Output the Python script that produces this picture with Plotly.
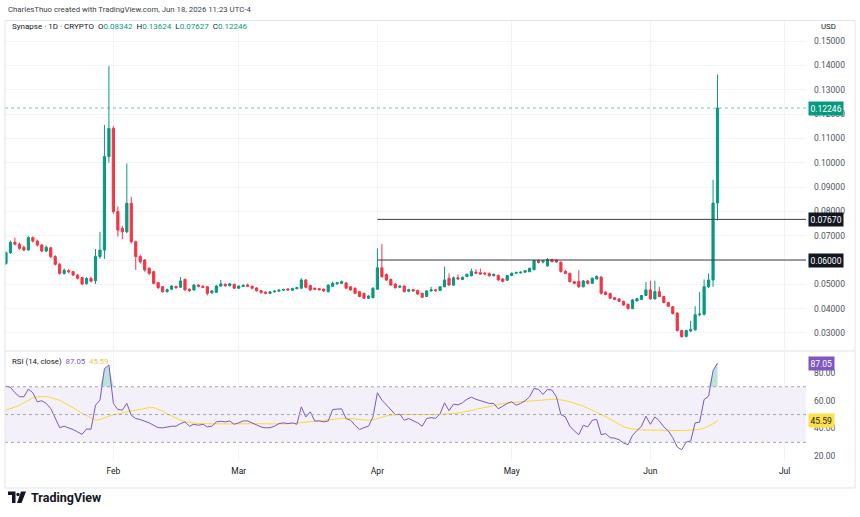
import pandas as pd
import plotly.graph_objects as go

# ---------------- data ----------------
start_date = "2026-01-08"

opens = [0.0586,0.0630,0.0673,0.0665,0.0652,0.0641,0.0692,0.0678,0.0662,0.0637,
         0.0650,0.0614,0.0582,0.0545,0.0556,0.0552,0.0538,0.0528,0.0503,0.0524,
         0.0515,0.0614,0.0641,0.1025,0.1141,0.0799,0.0730,0.0716,0.0833,0.0675,
         0.0614,0.0600,0.0566,0.0552,0.0507,0.0490,0.0470,0.0480,0.0491,0.0488,
         0.0520,0.0480,0.0477,0.0497,0.0492,0.0490,0.0465,0.0467,0.0493,0.0500,
         0.0494,0.0500,0.0484,0.0491,0.0497,0.0492,0.0485,0.0474,0.0468,0.0463,
         0.0469,0.0472,0.0476,0.0481,0.0476,0.0482,0.0484,0.0518,0.0495,0.0484,
         0.0482,0.0480,0.0470,0.0492,0.0502,0.0504,0.0506,0.0490,0.0484,0.0470,
         0.0463,0.0443,0.0445,0.0480,0.0568,0.0540,0.0520,0.0501,0.0488,0.0493,
         0.0472,0.0478,0.0475,0.0463,0.0450,0.0473,0.0478,0.0475,0.0490,0.0525,
         0.0497,0.0527,0.0520,0.0532,0.0535,0.0550,0.0548,0.0546,0.0545,0.0535,
         0.0537,0.0522,0.0517,0.0536,0.0546,0.0547,0.0550,0.0552,0.0560,0.0598,
         0.0592,0.0576,0.0602,0.0600,0.0591,0.0553,0.0545,0.0511,0.0512,0.0490,
         0.0514,0.0504,0.0522,0.0530,0.0468,0.0462,0.0445,0.0440,0.0430,0.0418,
         0.0400,0.0432,0.0438,0.0454,0.0477,0.0440,0.0470,0.0450,0.0425,0.0408,
         0.0382,0.0310,0.0286,0.0308,0.0313,0.0375,0.0377,0.0490,0.0518,0.08342]

highs = [0.0635,0.0680,0.0692,0.0672,0.0660,0.0698,0.0697,0.0684,0.0666,0.0660,
         0.0655,0.0620,0.0588,0.0565,0.0562,0.0556,0.0542,0.0531,0.0530,0.0532,
         0.0645,0.0716,0.1155,0.1397,0.1150,0.0820,0.0740,0.0997,0.0860,0.0680,
         0.0622,0.0604,0.0570,0.0556,0.0510,0.0493,0.0483,0.0497,0.0495,0.0530,
         0.0524,0.0483,0.0502,0.0500,0.0496,0.0493,0.0476,0.0498,0.0518,0.0504,
         0.0505,0.0503,0.0496,0.0500,0.0503,0.0495,0.0488,0.0477,0.0471,0.0472,
         0.0476,0.0479,0.0482,0.0484,0.0486,0.0490,0.0525,0.0521,0.0498,0.0487,
         0.0485,0.0483,0.0500,0.0512,0.0510,0.0516,0.0509,0.0493,0.0487,0.0472,
         0.0466,0.0455,0.0488,0.0648,0.0666,0.0545,0.0524,0.0505,0.0496,0.0496,
         0.0482,0.0482,0.0478,0.0466,0.0476,0.0490,0.0481,0.0492,0.0573,0.0545,
         0.0532,0.0540,0.0532,0.0545,0.0565,0.0562,0.0565,0.0550,0.0548,0.0545,
         0.0540,0.0526,0.0538,0.0548,0.0552,0.0553,0.0558,0.0568,0.0600,0.0602,
         0.0600,0.0608,0.0605,0.0603,0.0594,0.0560,0.0548,0.0514,0.0558,0.0518,
         0.0517,0.0528,0.0537,0.0533,0.0471,0.0466,0.0448,0.0443,0.0433,0.0421,
         0.0440,0.0444,0.0457,0.0510,0.0515,0.0515,0.0490,0.0453,0.0428,0.0411,
         0.0385,0.0313,0.0314,0.0350,0.0410,0.0468,0.0520,0.0545,0.0930,0.13624]

lows = [0.0580,0.0625,0.0660,0.0642,0.0636,0.0638,0.0672,0.0655,0.0632,0.0632,
        0.0608,0.0578,0.0540,0.0540,0.0545,0.0534,0.0520,0.0497,0.0499,0.0508,
        0.0502,0.0605,0.0605,0.1000,0.0790,0.0696,0.0686,0.0710,0.0668,0.0559,
        0.0585,0.0552,0.0538,0.0500,0.0482,0.0466,0.0466,0.0476,0.0482,0.0485,
        0.0474,0.0468,0.0474,0.0488,0.0484,0.0455,0.0462,0.0465,0.0490,0.0490,
        0.0492,0.0480,0.0482,0.0489,0.0490,0.0480,0.0470,0.0462,0.0459,0.0460,
        0.0466,0.0470,0.0473,0.0475,0.0474,0.0480,0.0482,0.0484,0.0472,0.0476,
        0.0475,0.0468,0.0466,0.0489,0.0499,0.0502,0.0482,0.0474,0.0460,0.0447,
        0.0440,0.0440,0.0443,0.0478,0.0528,0.0514,0.0494,0.0483,0.0486,0.0467,
        0.0468,0.0470,0.0457,0.0444,0.0448,0.0470,0.0470,0.0473,0.0488,0.0494,
        0.0494,0.0518,0.0518,0.0530,0.0533,0.0543,0.0539,0.0540,0.0532,0.0533,
        0.0515,0.0508,0.0515,0.0534,0.0543,0.0545,0.0548,0.0550,0.0558,0.0586,
        0.0586,0.0572,0.0590,0.0588,0.0548,0.0542,0.0508,0.0500,0.0486,0.0488,
        0.0500,0.0502,0.0520,0.0458,0.0455,0.0440,0.0435,0.0427,0.0412,0.0397,
        0.0398,0.0430,0.0436,0.0452,0.0437,0.0438,0.0447,0.0422,0.0407,0.0376,
        0.0306,0.0281,0.0282,0.0305,0.0310,0.0368,0.0372,0.0484,0.0490,0.07627]

closes = [0.0630,0.0673,0.0665,0.0648,0.0641,0.0692,0.0678,0.0662,0.0637,0.0652,
          0.0614,0.0582,0.0545,0.0558,0.0552,0.0538,0.0525,0.0501,0.0524,0.0513,
          0.0614,0.0641,0.1025,0.1141,0.0799,0.0723,0.0716,0.0833,0.0675,0.0614,
          0.0593,0.0559,0.0545,0.0504,0.0486,0.0470,0.0478,0.0493,0.0486,0.0514,
          0.0477,0.0474,0.0497,0.0492,0.0487,0.0463,0.0473,0.0493,0.0502,0.0494,
          0.0502,0.0484,0.0493,0.0496,0.0492,0.0484,0.0474,0.0466,0.0463,0.0469,
          0.0472,0.0476,0.0479,0.0477,0.0483,0.0486,0.0518,0.0488,0.0477,0.0480,
          0.0478,0.0473,0.0497,0.0504,0.0507,0.0511,0.0484,0.0477,0.0463,0.0450,
          0.0443,0.0452,0.0484,0.0568,0.0531,0.0518,0.0497,0.0486,0.0493,0.0470,
          0.0478,0.0473,0.0460,0.0447,0.0473,0.0477,0.0474,0.0490,0.0518,0.0497,
          0.0527,0.0522,0.0529,0.0541,0.0553,0.0546,0.0542,0.0543,0.0535,0.0541,
          0.0518,0.0512,0.0536,0.0546,0.0549,0.0550,0.0556,0.0566,0.0598,0.0590,
          0.0596,0.0602,0.0594,0.0592,0.0553,0.0545,0.0511,0.0504,0.0490,0.0514,
          0.0504,0.0525,0.0532,0.0463,0.0458,0.0443,0.0438,0.0430,0.0415,0.0400,
          0.0436,0.0441,0.0454,0.0477,0.0440,0.0470,0.0450,0.0425,0.0410,0.0380,
          0.0310,0.0285,0.0310,0.0315,0.0375,0.0378,0.0490,0.0518,0.0834,0.12246]

rsi = [70.5,69.5,65.7,62.8,62.8,68.3,65.7,59.2,59.9,58.0,
       54.3,47.1,40.6,41.6,40.6,39.2,37.5,35.8,39.6,39.4,
       56.7,60.4,83.0,85.7,58.0,53.6,53.2,58.0,49.5,47.1,
       46.4,45.4,44.0,42.3,40.6,40.4,41.1,41.6,41.6,43.5,
       44.7,41.6,43.0,42.3,43.0,41.1,41.6,44.7,45.2,44.7,
       45.4,43.0,44.0,45.4,45.4,44.0,42.3,41.1,40.4,40.6,
       41.6,43.5,44.0,43.5,44.0,43.0,55.5,48.3,51.9,45.4,
       45.4,44.7,45.4,53.6,53.9,54.1,47.1,45.9,42.3,39.2,
       40.6,41.6,48.3,65.7,60.4,56.7,53.2,50.0,50.2,45.9,
       47.1,45.4,44.0,41.6,47.1,47.8,47.3,50.5,58.4,52.8,
       57.5,57.0,58.5,61.0,62.5,61.0,59.9,58.9,58.0,58.0,
       54.1,56.0,58.0,59.2,56.7,58.0,59.9,62.8,68.8,68.1,
       64.5,68.1,67.6,62.8,50.0,48.3,41.6,38.2,35.5,42.3,
       41.1,45.9,46.5,35.5,36.3,33.4,33.0,31.9,29.5,28.3,
       35.0,38.5,41.5,48.8,43.0,48.3,45.4,41.1,38.2,33.4,
       26.6,24.7,30.2,31.0,44.0,44.5,60.8,63.2,81.6,87.05]

rsi_ma = [53.1,54.5,55.5,56.7,58.5,60.5,62.0,62.8,63.0,63.0,
          62.3,61.3,60.2,58.5,56.8,55.0,53.0,51.0,49.3,47.5,
          46.0,46.5,47.8,49.2,50.0,50.3,50.8,51.8,52.5,53.2,
          53.8,54.4,55.0,55.0,54.0,52.5,50.5,48.8,47.3,46.0,
          44.8,44.2,43.8,43.5,43.4,43.3,43.2,43.2,43.2,43.2,
          43.3,43.3,43.4,43.5,43.6,43.6,43.5,43.4,43.3,43.2,
          43.2,43.2,43.3,43.4,43.5,43.7,44.2,44.5,44.8,45.0,
          45.2,45.4,45.8,46.3,46.8,47.2,47.3,47.2,46.8,46.4,
          46.1,45.9,46.2,47.2,48.2,49.0,49.5,49.8,50.0,50.1,
          50.1,50.0,50.0,49.9,49.8,50.0,50.0,50.1,50.2,50.4,
          50.6,51.0,51.6,52.3,53.0,53.6,54.3,55.2,56.0,56.8,
          57.4,57.9,58.3,58.6,58.9,59.1,59.4,59.7,60.0,60.3,
          60.6,60.8,61.0,61.0,60.6,60.0,59.2,58.3,57.2,56.0,
          54.6,53.2,51.8,50.2,48.5,46.6,44.7,42.8,41.3,40.2,
          39.5,39.1,38.9,38.8,38.7,38.7,38.7,38.6,38.6,38.5,
          38.5,38.5,38.6,38.7,38.9,39.3,40.2,41.6,43.4,45.59]

level_lines = [0.0767, 0.06]
level_labels = ["0.07670", "0.06000"]
level_start = "2026-04-01"

# 0.06000 tick sits fully under its level tag, so it is left blank like in the reference
price_ticks = [0.03, 0.04, 0.05, 0.06, 0.07, 0.08, 0.09, 0.10, 0.11, 0.12, 0.13, 0.14, 0.15]
price_tick_text = ["0.03000", "0.04000", "0.05000", "", "0.07000", "0.08000", "0.09000",
                   "0.10000", "0.11000", "0.12000", "0.13000", "0.14000", "0.15000"]
rsi_ticks = [20, 40, 60, 80]
rsi_tick_text = ["20.00", "40.00", "60.00", "80.00"]
month_ticks = ["2026-02-01", "2026-03-01", "2026-04-01", "2026-05-01", "2026-06-01", "2026-07-01"]
month_labels = ["Feb", "Mar", "Apr", "May", "Jun", "Jul"]

last_o, last_h, last_l, last_c = "0.08342", "0.13624", "0.07627", "0.12246"
rsi_last, rsi_ma_last = "87.05", "45.59"

# ---------------- styling / layout ----------------
UP = "#089981"
DN = "#F23645"
PURPLE = "#7E57C2"
YELLOW = "#FDD835"
GRID = "#f1f3f7"
TXT = "#131722"
FONT = "Roboto, 'Liberation Sans', Arial, sans-serif"

W, H = 860, 517
L, R, T, B = 5, 806, 21, 460


def PX(x):
    return (x - L) / (R - L)


def PY(y):
    return (B - y) / (B - T)


dates = pd.date_range(start_date, periods=len(closes), freq="D")
x_start = pd.Timestamp(start_date) - pd.Timedelta(hours=5.3)
x_end = pd.Timestamp(start_date) + pd.Timedelta(days=178.77)

fig = go.Figure()

fig.add_trace(go.Candlestick(
    x=dates, open=opens, high=highs, low=lows, close=closes,
    increasing=dict(line=dict(color=UP, width=1), fillcolor=UP),
    decreasing=dict(line=dict(color=DN, width=1), fillcolor=DN),
    whiskerwidth=0, hoverinfo="skip", showlegend=False,
    xaxis="x", yaxis="y"))

# RSI overbought fill
ob_base = [70] * len(rsi)
ob_top = [max(v, 70) for v in rsi]
fig.add_trace(go.Scatter(x=dates, y=ob_base, mode="lines", line=dict(width=0),
                         hoverinfo="skip", showlegend=False, xaxis="x", yaxis="y2"))
fig.add_trace(go.Scatter(x=dates, y=ob_top, mode="lines", line=dict(width=0),
                         fill="tonexty", fillcolor="rgba(8,153,129,0.28)",
                         hoverinfo="skip", showlegend=False, xaxis="x", yaxis="y2"))
fig.add_trace(go.Scatter(x=dates, y=rsi_ma, mode="lines", line=dict(color=YELLOW, width=1),
                         hoverinfo="skip", showlegend=False, xaxis="x", yaxis="y2"))
fig.add_trace(go.Scatter(x=dates, y=rsi, mode="lines", line=dict(color=PURPLE, width=1),
                         hoverinfo="skip", showlegend=False, xaxis="x", yaxis="y2"))

shapes = []
# RSI band and dashed guides
shapes.append(dict(type="rect", xref="paper", yref="y2", x0=0, x1=1, y0=30, y1=70,
                   fillcolor="rgba(126,87,194,0.09)", line=dict(width=0), layer="below"))
for lv in (70, 50, 30):
    shapes.append(dict(type="line", xref="paper", yref="y2", x0=0, x1=1, y0=lv, y1=lv,
                       line=dict(color="#a3a6af", width=1, dash="3px,3px")))
# horizontal levels
for lv in level_lines:
    shapes.append(dict(type="line", xref="x", yref="y", x0=level_start, x1=x_end, y0=lv, y1=lv,
                       line=dict(color="#3a3d45", width=1)))
# current price line
shapes.append(dict(type="line", xref="paper", yref="y", x0=0, x1=1,
                   y0=float(last_c), y1=float(last_c),
                   line=dict(color="rgba(8,153,129,0.55)", width=1, dash="dot")))
# pane separator
shapes.append(dict(type="line", xref="paper", yref="paper", x0=PX(5), x1=PX(855),
                   y0=PY(351), y1=PY(351), line=dict(color="#e0e3eb", width=1)))
# outer frame
shapes.append(dict(type="rect", xref="paper", yref="paper", x0=PX(5), x1=PX(855),
                   y0=PY(488), y1=PY(20.5), line=dict(color="#e0e3eb", width=1),
                   fillcolor="rgba(0,0,0,0)"))
# TradingView logo glyph
logo1 = (f"M {PX(8)},{PY(491.5)} L {PX(15.5)},{PY(491.5)} L {PX(15.5)},{PY(503)} "
         f"L {PX(12)},{PY(503)} L {PX(12)},{PY(495)} L {PX(8)},{PY(495)} Z")
logo2 = (f"M {PX(21)},{PY(491.5)} L {PX(26)},{PY(491.5)} L {PX(21.5)},{PY(503)} "
         f"L {PX(17)},{PY(503)} Z")
shapes.append(dict(type="path", xref="paper", yref="paper", path=logo1,
                   fillcolor=TXT, line=dict(width=0)))
shapes.append(dict(type="path", xref="paper", yref="paper", path=logo2,
                   fillcolor=TXT, line=dict(width=0)))
shapes.append(dict(type="circle", xref="paper", yref="paper",
                   x0=PX(16.3), x1=PX(19.7), y0=PY(496.2), y1=PY(492.8),
                   fillcolor=TXT, line=dict(width=0)))

NB = "\u00a0"
teal = lambda s: f"<span style='color:{UP}'>{s}</span>"
header = (f"Synapse · 1D · CRYPTO{NB}{NB}O{teal(last_o)}{NB}{NB}H{teal(last_h)}"
          f"{NB}{NB}L{teal(last_l)}{NB}{NB}C{teal(last_c)}")
rsi_header = (f"RSI (14, close){NB}{NB}<span style='color:{PURPLE}'>{rsi_last}</span>{NB}{NB}"
              f"<span style='color:#F2C94C'>{rsi_ma_last}</span>")

annotations = [
    dict(text="CharlesThuo created with TradingView.com, Jun 18, 2026 11:23 UTC-4",
         x=PX(6), y=PY(9), font=dict(size=7.8, color="#3b3f4a")),
    dict(text=header, x=PX(10), y=PY(27), font=dict(size=8, color=TXT)),
    dict(text="USD", x=PX(819), y=PY(27), font=dict(size=7.8, color=TXT)),
    dict(text=rsi_header, x=PX(10), y=PY(361), font=dict(size=7.8, color=TXT)),
    dict(text="<b>TradingView</b>", x=PX(28.5), y=PY(497.5), font=dict(size=12.5, color=TXT)),
]
for a in annotations:
    a.update(xref="paper", yref="paper", xanchor="left", yanchor="middle", showarrow=False)

# value tags on the scales
tags = [
    (float(last_c), last_c, UP, "white", "y"),
    (level_lines[0], level_labels[0], "#131722", "white", "y"),
    (level_lines[1], level_labels[1], "#131722", "white", "y"),
    (float(rsi_last), rsi_last, PURPLE, "white", "y2"),
    (float(rsi_ma_last), rsi_ma_last, "#FDE047", TXT, "y2"),
]
for yv, txt, bg, fg, yr in tags:
    annotations.append(dict(text=txt, xref="paper", yref=yr, x=PX(808), y=yv,
                            xanchor="left", yanchor="middle", showarrow=False,
                            bgcolor=bg, borderpad=1.5, font=dict(size=8.5, color=fg)))

fig.update_layout(
    width=W, height=H,
    margin=dict(l=L, r=W - R, t=T, b=H - B),
    paper_bgcolor="white", plot_bgcolor="white",
    showlegend=False, hovermode=False,
    font=dict(family=FONT, size=8.5, color=TXT),
    shapes=shapes, annotations=annotations,
    xaxis=dict(type="date", range=[x_start, x_end], anchor="y2",
               tickvals=month_ticks, ticktext=month_labels,
               showgrid=True, gridcolor=GRID, gridwidth=1, ticks="",
               showline=False, zeroline=False, rangeslider=dict(visible=False),
               tickfont=dict(size=8.5, color=TXT), ticklabelstandoff=4, fixedrange=True),
    yaxis=dict(domain=[PY(350), 1], range=[0.02301, 0.15824], side="right", anchor="x",
               tickvals=price_ticks, ticktext=price_tick_text,
               showgrid=True, gridcolor=GRID, ticks="", zeroline=False, showline=False,
               tickfont=dict(size=8.5, color="#50535e"), ticklabelstandoff=7, fixedrange=True),
    yaxis2=dict(domain=[0, PY(352)], range=[17.3, 95], side="right", anchor="x",
                tickvals=rsi_ticks, ticktext=rsi_tick_text,
                showgrid=False, ticks="", zeroline=False, showline=False,
                tickfont=dict(size=8.5, color="#50535e"), ticklabelstandoff=7, fixedrange=True),
)

fig.write_html("out.html", config={"displayModeBar": False})
